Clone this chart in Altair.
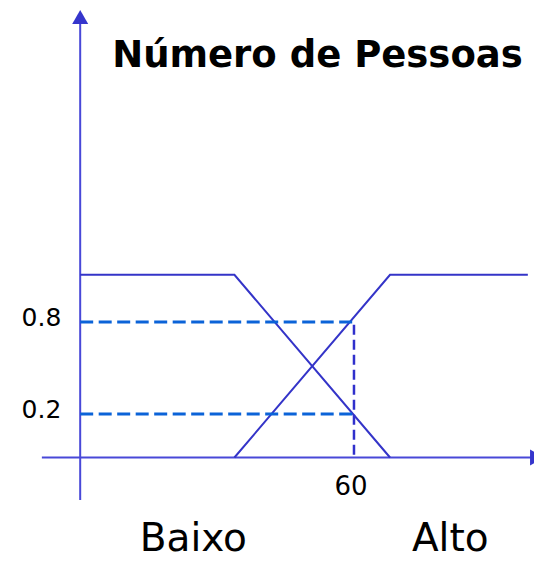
import altair as alt
import pandas as pd

# ---- data ----
# membership functions (x = Número de Pessoas, y = grau de pertinência)
baixo_x = [0, 33.8, 67.9]
baixo_y = [1, 1, 0]
alto_x = [33.8, 67.9, 98.1]
alto_y = [0, 1, 1]

# reading at x = 60 (dashed guides) and their tick labels
read_x = 60
read_levels = [0.742, 0.238]
read_labels = ["0.8", "0.2"]
x_tick_label = "60"

# axis extents
x_axis_range = [-8.4, 100.1]
y_axis_range = [-0.233, 2.411]

# category labels under the axis
class_names = ["Baixo", "Alto"]
class_x = [24.8, 81.1]
class_y = [-0.51, -0.51]

title_text = "Número de Pessoas"
title_x = 52.0
title_y = 2.139

x_domain = [-15.82, 99.45]
y_domain = [-0.5227, 2.4603]

LINE = "#3434c8"
AXIS = "#4848d8"
DASH_H = "#0b63d8"

xs = alt.Scale(domain=x_domain, nice=False, zero=False)
ys = alt.Scale(domain=y_domain, nice=False, zero=False)

def X(f="x"):
    return alt.X(f + ":Q", scale=xs, axis=None)

def Y(f="y"):
    return alt.Y(f + ":Q", scale=ys, axis=None)

mf = pd.DataFrame(
    {
        "x": baixo_x + alto_x,
        "y": baixo_y + alto_y,
        "series": ["Baixo"] * len(baixo_x) + ["Alto"] * len(alto_x),
        "i": list(range(len(baixo_x))) + list(range(len(alto_x))),
    }
)

lines = alt.Chart(mf).mark_line(color=LINE, strokeWidth=2).encode(
    x=X(), y=Y(), detail="series:N", order="i:O"
)

# axes
xaxis_df = pd.DataFrame({"x": [x_axis_range[0]], "x2": [x_axis_range[1]], "y": [0]})
yaxis_df = pd.DataFrame({"x": [0], "y": [y_axis_range[0]], "y2": [y_axis_range[1]]})
xaxis = alt.Chart(xaxis_df).mark_rule(color=AXIS, strokeWidth=2).encode(
    x=X(), x2="x2:Q", y=Y()
)
yaxis = alt.Chart(yaxis_df).mark_rule(color=AXIS, strokeWidth=2).encode(
    x=X(), y=Y(), y2="y2:Q"
)
arrow_up = alt.Chart(pd.DataFrame({"x": [0], "y": [y_axis_range[1]]})).mark_point(
    shape="triangle-up", filled=True, size=256, strokeWidth=0, opacity=1, color="#3535cc"
).encode(x=X(), y=Y())
arrow_right = alt.Chart(pd.DataFrame({"x": [x_axis_range[1]], "y": [0]})).mark_point(
    shape="triangle-right", filled=True, size=256, strokeWidth=0, opacity=1, color="#3535cc"
).encode(x=X(), y=Y())

# dashed guides
hdash_df = pd.DataFrame({"x": [0] * len(read_levels), "x2": [read_x] * len(read_levels), "y": read_levels})
hdash = alt.Chart(hdash_df).mark_rule(
    color=DASH_H, strokeWidth=3, strokeDash=[13, 5.5]
).encode(x=X(), x2="x2:Q", y=Y())
vdash_df = pd.DataFrame({"x": [read_x], "y": [0.015], "y2": [max(read_levels)]})
vdash = alt.Chart(vdash_df).mark_rule(
    color="#3030cc", strokeWidth=2.5, strokeDash=[10, 5]
).encode(x=X(), y=Y(), y2="y2:Q")

# tick-like labels
ylab_df = pd.DataFrame({"x": [-8.5] * len(read_levels), "y": read_levels, "t": read_labels})
ylabels = alt.Chart(ylab_df).mark_text(
    font="DejaVu Sans", fontSize=25, align="center", baseline="alphabetic", dy=4, color="#000000"
).encode(x=X(), y=Y(), text="t:N")

xlab_df = pd.DataFrame({"x": [read_x], "y": [0], "t": [x_tick_label]})
xlabel = alt.Chart(xlab_df).mark_text(
    font="DejaVu Sans", fontSize=26, align="center", baseline="alphabetic", dx=-3, dy=37, color="#000000"
).encode(x=X(), y=Y(), text="t:N")

cls_df = pd.DataFrame({"x": class_x, "y": class_y, "t": class_names})
classes = alt.Chart(cls_df).mark_text(
    font="DejaVu Sans", fontSize=39, align="center", baseline="alphabetic", color="#000000"
).encode(x=X(), y=Y(), text="t:N")

title_df = pd.DataFrame({"x": [title_x], "y": [title_y], "t": [title_text]})
title = alt.Chart(title_df).mark_text(
    font="DejaVu Sans", fontSize=37, fontWeight="bold", align="center", baseline="alphabetic", color="#000000"
).encode(x=X(), y=Y(), text="t:N")

chart = (
    alt.layer(xaxis, yaxis, arrow_up, arrow_right, lines, hdash, vdash, ylabels, xlabel, classes, title)
    .properties(
        width=526,
        height=545,
        autosize=alt.AutoSizeParams(type="none"),
        padding=0,
        background="white",
    )
    .configure_view(stroke=None)
)

chart.save("out.html", embed_options={"renderer": "svg", "actions": False})
